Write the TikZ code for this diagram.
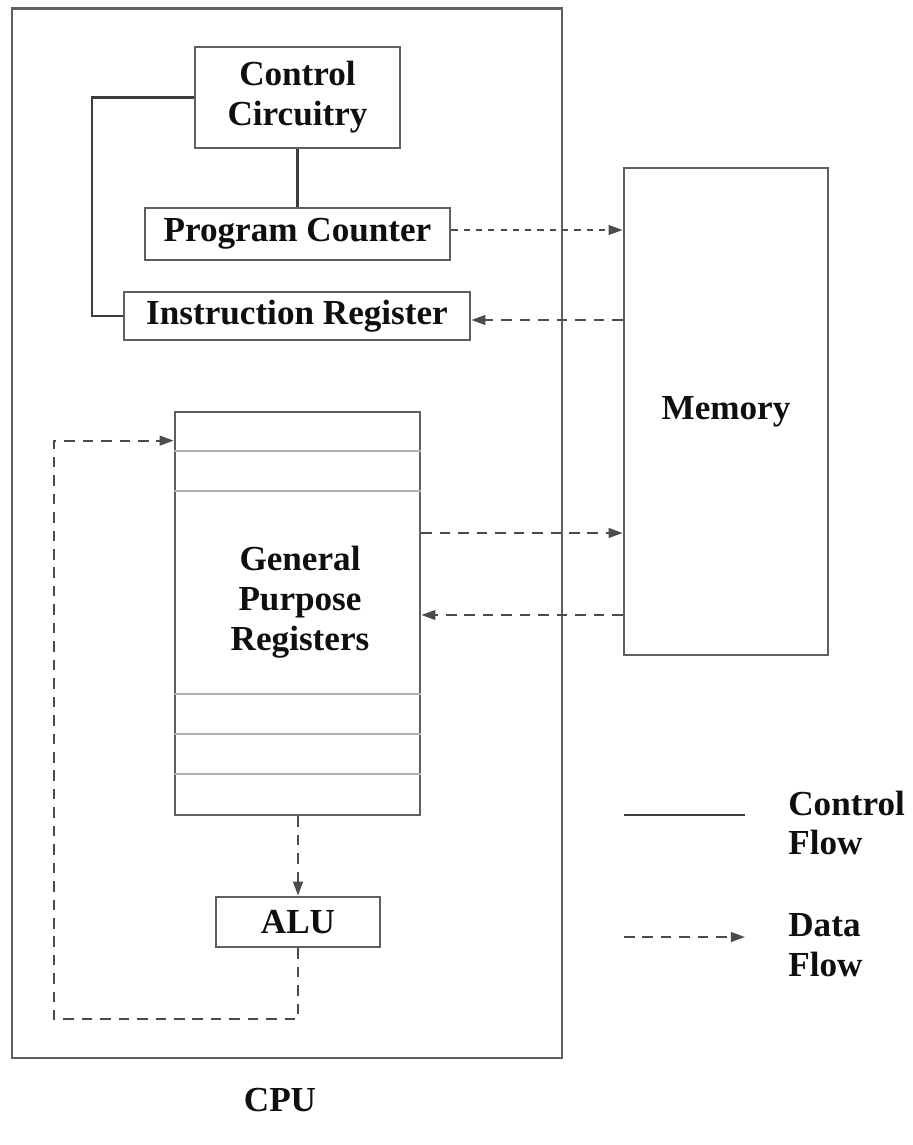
\documentclass[tikz,border=0pt]{standalone}
\usepackage{fontspec}
\setmainfont{Liberation Serif}
\usepackage{tikz}
\usetikzlibrary{arrows.meta, positioning, calc}
\usepackage{xcolor}
\definecolor{bBox}{RGB}{95, 95, 95}
\definecolor{lCtrl}{RGB}{60, 60, 60}
\definecolor{lData}{RGB}{75, 75, 75}
\definecolor{lReg}{RGB}{175, 175, 175}
\definecolor{tDark}{RGB}{15, 15, 15}

\begin{document}
\begin{tikzpicture}[
    x=0.02cm, y=-0.02cm,
    font=\fontsize{20}{22.7}\selectfont\bfseries,
    >={Triangle[length=8pt, width=5.5pt]},
    block/.style={
        draw=bBox,
        line width=1.6pt,
        align=center,
        inner sep=0pt,
        text=tDark
    },
    ctrl/.style={line width=1.2pt, color=lCtrl},
    data/.style={->, line width=1.2pt, color=lData, dash pattern=on 6pt off 4.5pt},
    dots/.style={->, line width=1.2pt, color=lData, dash pattern=on 3.5pt off 3.5pt},
    label/.style={align=left, text=tDark, inner sep=0pt}
]

\useasboundingbox (0,0) rectangle (912,1145);

% CPU frame
\node[block, minimum width=11cm, minimum height=21cm] (cpu) at (287, 533) {};
\node[text=tDark] (cpulabel) at (280, 1100) {CPU};

% control part
\node[block, minimum width=4.1cm, minimum height=2.02cm] (cc) at (297.5, 97.5) {Control\\Circuitry};
\node[block, minimum width=6.1cm, minimum height=1.04cm] (pc) at (297.5, 234) {Program Counter};
\node[block, minimum width=6.92cm, minimum height=0.96cm] (ir) at (297, 316) {Instruction Register};

\draw[ctrl] (cc.south) -- (pc.north -| cc.south);
\draw[ctrl] (cc.west) -- ++(-102, 0) |- (ir.west);

% memory
\node[block, minimum width=4.08cm, minimum height=9.74cm] (mem) at (726, 411.5) {Memory};

\draw[dots] ([yshift=0.08cm]pc.east) -- ([yshift=0.08cm]pc.east -| mem.west);
\draw[data] ([yshift=-0.08cm]ir.east -| mem.west) -- ([yshift=-0.08cm]ir.east);

% registers
\node[block, minimum width=4.9cm, minimum height=8.06cm] (gpr) at (297.5, 613.5) {};
\foreach \d in {0.8, 1.6, 5.66, 6.46, 7.26}
    \draw[lReg, line width=1.2pt] ([yshift=-\d cm]gpr.north west) -- ([yshift=-\d cm]gpr.north east);
\node[label, align=center] (gprtext) at (300, 602) {General\\Purpose\\Registers};

\draw[data] ([yshift=1.61cm]gpr.east) -- ([yshift=1.61cm]gpr.east -| mem.west);
\draw[data] ([yshift=-0.03cm]gpr.east -| mem.west) -- ([yshift=-0.03cm]gpr.east);

% ALU
\node[block, minimum width=3.28cm, minimum height=1.0cm] (alu) at (298, 922) {ALU};

\draw[data] (gpr.south -| alu.north) -- (alu.north);
\draw[data] (alu.south) |- ++(-244, 71) |- ([yshift=-0.6cm]gpr.north west);

% legend
\coordinate (lgc) at (624, 815);
\coordinate (lgd) at (624, 937);
\draw[ctrl] (lgc) -- ++(121, 0);
\draw[data] (lgd) -- ++(121, 0);
\node[label, anchor=west] (lgctext) at (788, 823) {Control\\Flow};
\node[label, anchor=west] (lgdtext) at (788, 945) {Data\\Flow};

\end{tikzpicture}
\end{document}
